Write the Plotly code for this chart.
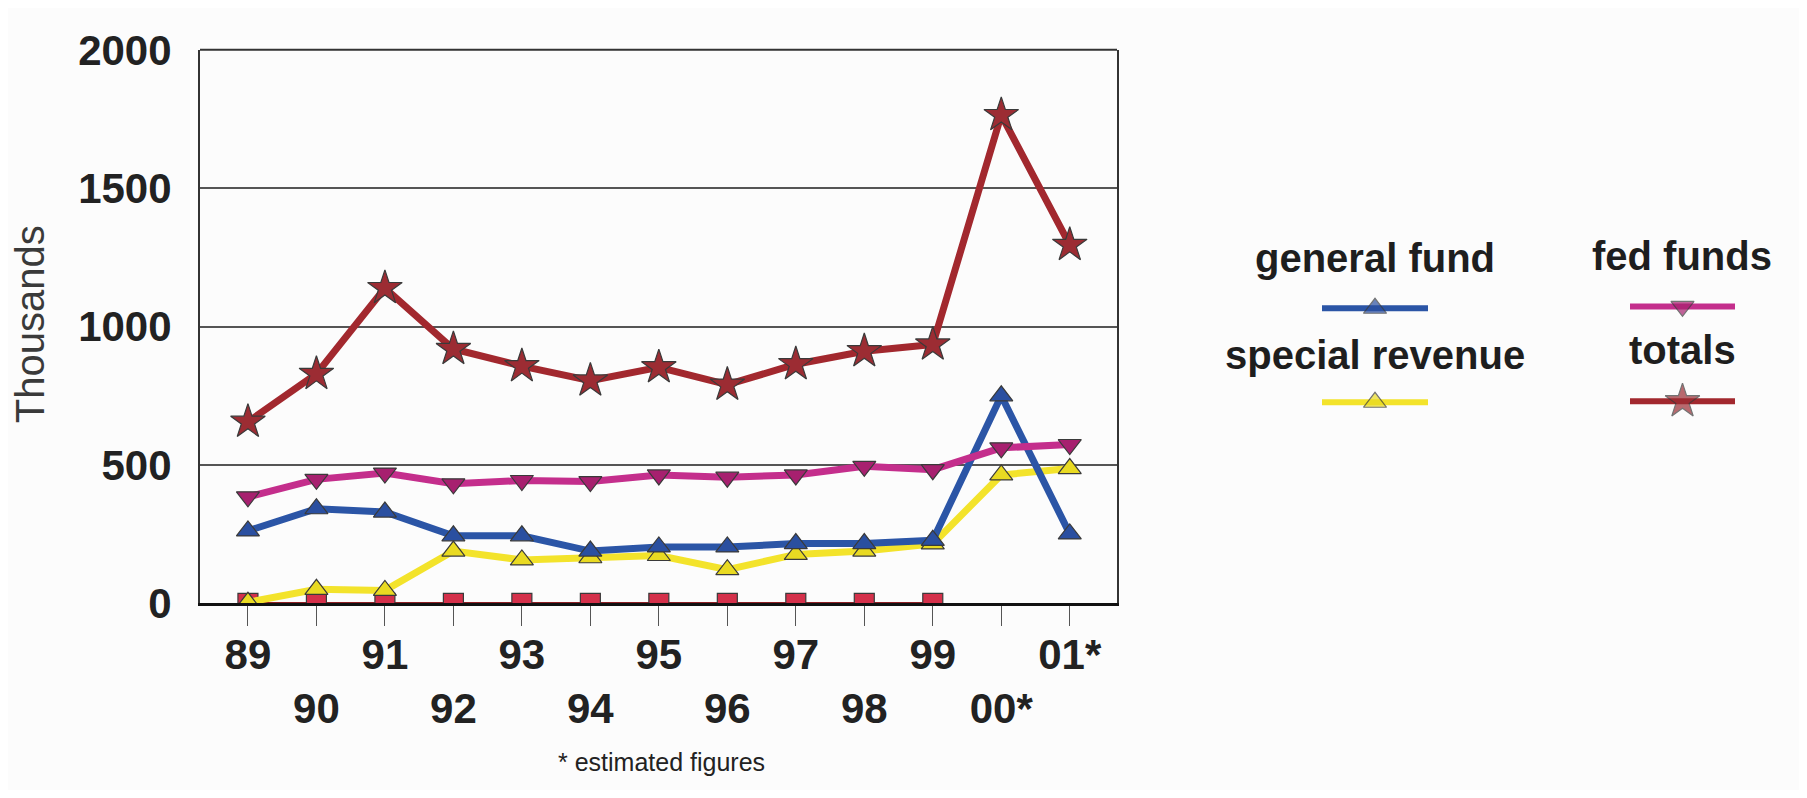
import plotly.graph_objects as go

# ---- data ----
years = ["89", "90", "91", "92", "93", "94", "95", "96", "97", "98", "99", "00*", "01*"]
general_fund = [262, 342, 330, 244, 244, 189, 204, 204, 216, 216, 228, 750, 251]
special_revenue = [4, 51, 47, 189, 157, 165, 173, 122, 177, 189, 215, 464, 487]
fed_funds = [385, 448, 471, 432, 444, 440, 464, 456, 464, 495, 483, 562, 574]
totals = [656, 829, 1139, 919, 857, 805, 853, 790, 864, 911, 935, 1764, 1295]
other = [0, 0, 0, 0, 0, 0, 0, 0, 0, 0, 0, None, None]
y_ticks = [0, 500, 1000, 1500, 2000]

# two-row tick labels (alternating)
tick_text = [y if i % 2 == 0 else "<br>" + y for i, y in enumerate(years)]

WIN_W, WIN_H = 1807, 798
OFF = 8                      # default page body margin
W, H = WIN_W - 2 * OFF, WIN_H - 2 * OFF
PL, PR, PT, PB = 200, 1117, 28, 617  # plot box in window pixels


def px(x):
    return (x - OFF) / W


def py(y):
    return 1 - (y - OFF) / H


FONT = "Liberation Sans"
BLUE, BLUE_M = "#2b55a6", "#2a4fa0"
YEL, YEL_M = "#f3e32b", "#e9da22"
MAG, MAG_M = "#c42e8c", "#a7206f"
RED, RED_M = "#a2282e", "#9c2c33"
SQ = "#d4304a"

fig = go.Figure()


def add(vals, name, color, mcolor, symbol, size, width):
    fig.add_trace(go.Scatter(
        x=years, y=vals, name=name, mode="lines+markers",
        line=dict(color=color, width=width),
        marker=dict(symbol=symbol, size=size, color=mcolor,
                    line=dict(color="#3a3a3a", width=1.2)),
        cliponaxis=True, showlegend=False, xaxis="x", yaxis="y"))


add(other, "other", "#8c1f24", SQ, "square", 20, 3)
add(special_revenue, "special revenue", YEL, YEL_M, "triangle-up", 20, 7)
add(general_fund, "general fund", BLUE, BLUE_M, "triangle-up", 20, 7)
add(fed_funds, "fed funds", MAG, MAG_M, "triangle-down", 20, 7)
add(totals, "totals", RED, RED_M, "star", 26, 7)

# ---- custom legend: samples on an overlay axis in window-pixel space ----
legend_items = [
    ("general fund", BLUE, BLUE_M, "triangle-up", 1322, 1428, 303, 1375, 250),
    ("special revenue", YEL, YEL_M, "triangle-up", 1322, 1428, 403, 1375, 353),
    ("fed funds", MAG, MAG_M, "triangle-down", 1630, 1735, 301, 1682, 247),
    ("totals", RED, RED_M, "star", 1630, 1735, 402, 1682, 347),
]
for name, c, mc, sym, x0, x1, yy, tx, ty in legend_items:
    fig.add_trace(go.Scatter(
        x=[x0, (x0 + x1) / 2, x1], y=[yy, yy, yy], mode="lines+markers",
        line=dict(color=c, width=6),
        marker=dict(symbol=sym, size=[0, 20 if sym != "star" else 26, 0], color=mc,
                    line=dict(color="#3a3a3a", width=1.2)),
        showlegend=False, hoverinfo="skip", xaxis="x2", yaxis="y2", cliponaxis=False))
    fig.add_annotation(text=name, x=px(tx), y=py(ty), xref="paper", yref="paper",
                       xanchor="center", yanchor="middle", showarrow=False,
                       font=dict(family=FONT, size=40, color="#1e1e1e", weight="bold"))

fig.add_annotation(text="Thousands", x=px(30), y=py(320), xref="paper", yref="paper",
                   xanchor="center", yanchor="middle", textangle=-90, showarrow=False,
                   font=dict(family=FONT, size=40, color="#3a3a3a"))
fig.add_annotation(text="* estimated figures", x=px(661), y=py(786), xref="paper", yref="paper",
                   xanchor="center", yanchor="middle", showarrow=False,
                   font=dict(family=FONT, size=25, color="#222222"))

# top frame line
fig.add_shape(type="line", xref="x domain", yref="y domain", x0=0, x1=1, y0=1, y1=1,
              line=dict(color="#333333", width=2))

fig.update_layout(
    width=W, height=H,
    margin=dict(l=0, r=0, t=0, b=0),
    paper_bgcolor="#fcfcfc", plot_bgcolor="rgba(0,0,0,0)",
    xaxis=dict(domain=[px(PL), px(PR)], type="category", range=[-0.70, 12.69],
               tickmode="array", tickvals=years, ticktext=tick_text,
               ticks="outside", ticklen=20, tickwidth=1.2, tickcolor="#555555",
               showline=True, linecolor="#111111", linewidth=3, mirror=False,
               showgrid=False, zeroline=False, ticklabelstandoff=-8,
               ticklabeloverflow="allow",
               tickfont=dict(family=FONT, size=42, color="#222222", weight="bold")),
    yaxis=dict(domain=[py(PB), py(PT)], range=[0, 2000],
               tickmode="array", tickvals=y_ticks,
               showgrid=True, gridcolor="#555555", gridwidth=1.5,
               showline=True, linecolor="#333333", linewidth=2, mirror=True,
               ticks="", ticklabelstandoff=18, zeroline=False,
               ticklabeloverflow="allow",
               tickfont=dict(family=FONT, size=42, color="#222222", weight="bold")),
    xaxis2=dict(domain=[0, 1], range=[OFF, OFF + W], visible=False, anchor="y2"),
    yaxis2=dict(domain=[0, 1], range=[OFF + H, OFF], visible=False, anchor="x2"),
)

fig.write_html("out.html")
